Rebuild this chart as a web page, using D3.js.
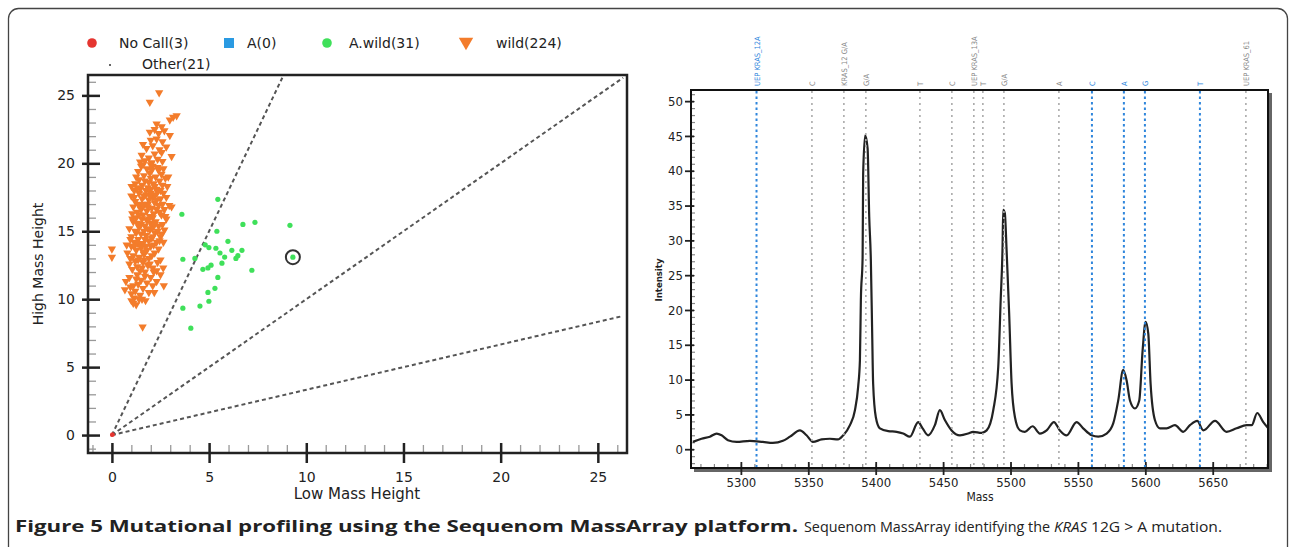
<!DOCTYPE html>
<html>
<head>
<meta charset="utf-8">
<script src="https://cdn.jsdelivr.net/npm/d3@7/dist/d3.min.js"></script>
<style>
body { margin: 0; background: #fff; }
svg { display: block; }
</style>
</head>
<body>
<svg id="fig" width="1290" height="547"></svg>
<script>
// ---- left panel: genotype cluster plot ----
var legendLabels = ["No Call(3)", "A(0)", "A.wild(31)", "wild(224)", "Other(21)"];
var xTicks = [0, 5, 10, 15, 20, 25];
var yTicks = [0, 5, 10, 15, 20, 25];
var ratioSlopes = [3, 1, 1 / 3];

var noCall = [[0, 0], [0.05, 0.03], [0.02, 0.06]];
var other = [[0,0],[0.02,0.01],[0.01,0.03],[0.03,0.02],[0,0.04],[0.04,0],[0.02,0.02],[0.01,0.01],[0.03,0.04],[0.05,0.02],[0.02,0.05],
  [0,0.02],[0.04,0.03],[0.01,0.05],[0.03,0],[0.05,0.05],[0.02,0.03],[0.04,0.01],[0,0.01],[0.01,0],[0.03,0.03]];
var aWild = [[5.45,17.35],[3.6,16.25],[5.4,15.0],[6.74,15.5],[7.36,15.66],[9.16,15.44],[5.97,14.26],[4.99,13.8],[5.35,13.75],
  [5.56,13.4],[6.17,13.6],[6.69,13.6],[3.65,12.94],[4.27,13.0],[5.66,12.65],[6.38,13.0],[6.48,13.2],[4.68,12.2],[4.94,12.3],
  [7.2,12.13],[5.45,11.6],[4.94,10.5],[5.3,10.8],[3.65,9.34],[4.53,9.49],[4.99,9.85],[4.06,7.87],[9.31,13.09],[5.1,12.5],
  [5.8,13.1],[4.8,14.0]];
var selected = [[9.31, 13.09]];
var wild = [
  [2.43,25.2],[1.95,24.5],
  [3.15,23.4],[3.33,23.5],[2.98,23.2],[2.3,22.9],[2.56,22.7],[2.2,22.5],[1.95,22.3],[2.98,22.06],[2.4,22.2],[2.7,22.4],
  [2.6,21.6],[2.3,21.8],[1.78,21.1],[2.1,21.3],[2.45,21.0],[2.56,20.8],[3.07,20.5],[1.53,20.6],[1.9,20.4],[2.2,20.7],
  [1.7,20.2],[2.35,20.3],[1.6,21.4],[2.0,21.7],[2.8,21.2],[1.45,20.1],[2.05,20.05],[2.6,20.15],
  [1.01,18.3],[1.2,18.5],[1.35,19.4],[1.5,19.8],[1.65,19.1],[1.8,19.6],[1.95,19.3],[2.1,19.8],[2.25,19.0],[2.4,19.5],
  [2.55,19.2],[2.9,19.0],[1.4,18.8],[1.55,18.4],[1.7,18.7],[1.85,18.2],[2.0,18.9],[2.15,18.5],[2.3,18.1],[2.45,18.7],
  [2.6,18.4],[2.75,18.9],[1.25,19.0],[1.6,19.9],[1.9,18.6],[2.05,19.5],[2.2,18.3],[2.35,19.7],[1.75,18.0],[1.45,18.1],
  [2.65,19.6],[1.15,18.0],[2.5,18.0],[1.3,18.2],[2.85,18.3],[2.0,18.1],
  [1.0,17.6],[1.1,16.8],[1.2,17.2],[1.3,16.4],[1.4,17.8],[1.45,16.9],[1.55,17.4],[1.6,16.2],[1.7,17.0],[1.75,17.7],
  [1.8,16.5],[1.9,17.3],[1.95,16.1],[2.0,17.8],[2.05,16.7],[2.1,17.5],[2.15,16.3],[2.2,17.1],[2.3,16.6],[2.35,17.9],
  [2.4,16.9],[2.5,17.4],[2.55,16.2],[2.6,17.0],[2.7,16.6],[2.8,17.5],[2.95,16.9],[3.07,16.8],[1.25,16.0],[1.35,17.0],
  [1.5,16.6],[1.65,17.6],[1.85,17.0],[2.25,17.7],[2.45,16.4],[2.65,17.8],[1.15,17.5],[1.05,16.3],[2.75,16.1],[1.95,17.6],
  [2.1,16.0],[1.6,16.9],[2.3,17.3],[1.4,16.2],
  [0.9,15.2],[1.0,14.6],[1.1,15.7],[1.15,14.2],[1.2,15.0],[1.3,15.6],[1.35,14.4],[1.4,15.3],[1.5,14.8],[1.55,15.9],
  [1.6,14.1],[1.7,15.4],[1.75,14.7],[1.8,15.8],[1.9,14.3],[1.95,15.1],[2.0,15.6],[2.05,14.5],[2.1,15.3],[2.2,14.9],
  [2.25,15.7],[2.3,14.2],[2.4,15.4],[2.5,14.6],[2.56,14.8],[2.6,15.5],[2.7,15.1],[2.8,15.9],[0.76,14.0],[1.25,14.9],
  [1.45,14.0],[1.65,15.0],[1.85,15.2],[2.15,14.0],[2.35,15.0],[2.45,14.3],[1.05,15.9],[0.95,14.4],[2.65,14.2],[1.5,15.5],
  [1.9,15.9],[2.1,14.6],[1.3,14.1],[1.7,14.4],
  [0.0,13.7],[0.0,13.1],[0.8,13.4],[0.9,12.6],[1.0,13.9],[1.05,12.2],[1.1,13.2],[1.2,12.8],[1.25,13.6],[1.3,12.4],
  [1.4,13.1],[1.45,12.1],[1.5,13.8],[1.6,12.7],[1.65,13.3],[1.7,12.0],[1.8,13.6],[1.85,12.5],[1.9,13.0],[2.0,13.9],
  [2.1,12.3],[2.2,13.4],[2.3,12.1],[2.4,13.7],[2.64,12.3],[2.5,12.9],[1.15,13.9],[1.35,12.9],[1.55,12.3],[1.75,13.9],
  [1.95,12.6],[2.05,13.2],[2.35,12.7],[0.95,13.0],[2.15,12.0],[1.6,13.5],
  [0.67,10.7],[0.72,11.3],[0.9,11.6],[1.0,10.4],[1.1,11.0],[1.2,10.6],[1.3,11.8],[1.35,11.1],[1.45,10.3],[1.5,11.4],
  [1.6,10.8],[1.7,11.7],[1.8,11.2],[1.9,10.5],[2.0,11.6],[2.18,10.5],[2.3,11.3],[2.67,11.0],[2.5,11.8],[1.15,10.1],
  [1.55,10.0],[2.1,11.0],[0.95,10.9],[1.25,11.5],
  [1.1,9.7],[1.0,9.9],[1.25,9.6],[1.73,9.9],[1.58,7.96],[1.4,10.0],
  [2.0,19.9],[1.85,16.8],[2.2,15.5],[1.65,12.9]
];

// ---- right panel: mass spectrum ----
var massTicks = [5300, 5350, 5400, 5450, 5500, 5550, 5600, 5650];
var intensityTicks = [0, 5, 10, 15, 20, 25, 30, 35, 40, 45, 50];
var specMass = [5264.4,5270.8,5277.0,5282.0,5285.7,5290.4,5296.8,5306.7,5316.3,5323.7,5331.2,5336.4,5343.8,5348.7,5353.4,
  5359.9,5366.0,5372.0,5375.9,5380.9,5384.6,5387.0,5388.3,5389.0,5390.3,5390.7,5392.2,5394.0,5395.2,5396.4,5397.4,5398.1,
  5400.1,5403.1,5409.3,5415.5,5420.4,5425.4,5431.5,5434.8,5438.9,5443.9,5447.6,5451.3,5456.3,5462.5,5468.6,5472.3,5478.6,
  5482.3,5487.2,5490.9,5492.7,5494.1,5494.6,5495.8,5497.1,5499.0,5500.8,5503.3,5507.0,5510.7,5516.4,5521.8,5526.8,5532.2,
  5536.6,5541.6,5549.0,5553.9,5560.2,5565.1,5571.3,5576.2,5579.9,5583.6,5586.1,5588.6,5592.3,5595.5,5598.0,5600.2,5602.2,
  5603.9,5607.1,5610.8,5615.8,5622.0,5628.1,5633.1,5638.5,5643.0,5651.7,5660.3,5667.7,5675.2,5678.9,5683.0,5687.5,5691.2];
var specIntensity = [1.05,1.5,1.8,2.25,2.0,1.3,1.05,1.2,1.05,0.9,1.2,1.8,2.7,2.0,1.05,
  1.4,1.5,1.4,2.0,3.45,5.6,9.0,12.8,21.4,27.6,39.6,45.1,43.2,33.4,27.2,16.6,9.45,
  4.6,3.0,2.6,2.5,2.25,1.8,3.9,3.0,2.0,3.45,5.6,4.2,2.7,2.0,2.25,2.5,2.35,
  2.7,5.6,11.8,21.4,29.1,34.4,33.9,28.6,19.5,9.45,4.6,2.7,2.5,3.3,2.25,2.7,3.9,
  2.7,2.0,3.9,3.0,2.0,1.8,2.25,3.7,7.0,11.4,9.9,7.0,5.85,7.0,14.2,18.3,16.6,
  9.45,4.2,3.0,3.0,3.45,2.5,3.45,4.07,2.7,4.07,2.5,3.0,3.45,3.45,5.2,3.9,3.0];
var markerMass = [5311.6, 5352.7, 5376.4, 5392.7, 5432.8, 5456.5, 5472.8, 5479.5, 5495.1, 5535.9, 5560.4, 5584.1, 5599.7, 5640.5, 5674.6];
var markerLabel = ["UEP KRAS_12A", "C", "KRAS_12 G/A", "G/A", "T", "C", "UEP KRAS_13A", "T", "G/A", "A", "C", "A", "G", "T", "UEP KRAS_61"];
var markerBlue = [true, false, false, false, false, false, false, false, false, false, true, true, true, true, false];

var svg = d3.select("#fig");
svg.append("rect").attr("width", 1290).attr("height", 547).attr("fill", "#fff");
svg.append("rect").attr("x", 8.5).attr("y", 8.5).attr("width", 1279).attr("height", 560)
  .attr("rx", 10).attr("fill", "none").attr("stroke", "#444").attr("stroke-width", 1.3);

var sansL = "'DejaVu Sans', Verdana, sans-serif";
var sansR = "'DejaVu Sans Condensed', 'DejaVu Sans', sans-serif";

// ================= left panel =================
var sx = d3.scaleLinear().domain([-1.23, 26.5]).range([88, 627]);
var sy = d3.scaleLinear().domain([-1.32, 26.5]).range([453, 75]);

var left = svg.append("g");
left.append("clipPath").attr("id", "clipL").append("rect")
  .attr("x", 88).attr("y", 75).attr("width", 539).attr("height", 378);

// minor ticks
left.append("g").attr("transform", "translate(0,453)")
  .call(d3.axisBottom(sx).tickValues(d3.range(-1, 27)).tickSize(-8).tickFormat(""))
  .call(function(g){ g.select(".domain").remove(); g.selectAll("line").attr("stroke", "#999").attr("stroke-width", 1.3); });
left.append("g").attr("transform", "translate(88,0)")
  .call(d3.axisLeft(sy).tickValues(d3.range(-1, 27)).tickSize(-8).tickFormat(""))
  .call(function(g){ g.select(".domain").remove(); g.selectAll("line").attr("stroke", "#999").attr("stroke-width", 1.3); });

// major ticks
left.append("g").attr("transform", "translate(0,453)")
  .call(d3.axisBottom(sx).tickValues(xTicks).tickSize(10).tickPadding(9))
  .call(function(g){
    g.select(".domain").remove();
    g.selectAll("line").attr("y1", -10).attr("stroke", "#222").attr("stroke-width", 2.5);
    g.selectAll("text").attr("font-family", sansL).attr("font-size", 14).attr("fill", "#222");
  });
left.append("g").attr("transform", "translate(88,0)")
  .call(d3.axisLeft(sy).tickValues(yTicks).tickSize(6).tickPadding(7))
  .call(function(g){
    g.select(".domain").remove();
    g.selectAll("line").attr("x1", 12).attr("stroke", "#222").attr("stroke-width", 2.5);
    g.selectAll("text").attr("font-family", sansL).attr("font-size", 14).attr("fill", "#222");
  });

// ratio lines
var ratioLine = d3.line().x(function(d){ return sx(d[0]); }).y(function(d){ return sy(d[1]); });
left.append("g").attr("clip-path", "url(#clipL)").selectAll("path").data(ratioSlopes).join("path")
  .attr("d", function(k){
    var lim = 26.3;
    var end = k >= 1 ? [lim / k, lim] : [lim, lim * k];
    return ratioLine([[0, 0], end]);
  })
  .attr("fill", "none").attr("stroke", "#555").attr("stroke-width", 2).attr("stroke-dasharray", "4,3");

var pts = left.append("g").attr("clip-path", "url(#clipL)");
var triDown = d3.symbol().type(d3.symbolTriangle).size(30);
pts.selectAll(".wild").data(wild).join("path").attr("class", "wild")
  .attr("d", triDown)
  .attr("transform", function(d){ return "translate(" + sx(d[0]) + "," + sy(d[1]) + ") rotate(180)"; })
  .attr("fill", "#f37c2b");
pts.selectAll(".awild").data(aWild).join("circle").attr("class", "awild")
  .attr("cx", function(d){ return sx(d[0]); }).attr("cy", function(d){ return sy(d[1]); })
  .attr("r", 2.6).attr("fill", "#3fe05a");
pts.selectAll(".other").data(other).join("circle").attr("class", "other")
  .attr("cx", function(d){ return sx(d[0]); }).attr("cy", function(d){ return sy(d[1]); })
  .attr("r", 0.8).attr("fill", "#333");
pts.selectAll(".nocall").data(noCall).join("circle").attr("class", "nocall")
  .attr("cx", function(d){ return sx(d[0]); }).attr("cy", function(d){ return sy(d[1]); })
  .attr("r", 2).attr("fill", "#e53530");
pts.selectAll(".sel").data(selected).join("circle").attr("class", "sel")
  .attr("cx", function(d){ return sx(d[0]); }).attr("cy", function(d){ return sy(d[1]); })
  .attr("r", 7).attr("fill", "none").attr("stroke", "#333").attr("stroke-width", 2);

left.append("rect").attr("x", 88).attr("y", 75).attr("width", 539).attr("height", 378)
  .attr("fill", "none").attr("stroke", "#222").attr("stroke-width", 2.5);

left.append("text").attr("x", 357).attr("y", 499).attr("text-anchor", "middle")
  .attr("font-family", sansL).attr("font-size", 15).attr("fill", "#222").text("Low Mass Height");
left.append("text").attr("transform", "translate(43,264) rotate(-90)").attr("text-anchor", "middle")
  .attr("font-family", sansL).attr("font-size", 14).attr("fill", "#222").text("High Mass Height");

// legend
var leg = left.append("g").attr("font-family", sansL).attr("font-size", 14).attr("fill", "#222");
var legText = [[119, 43], [247, 43], [349, 43], [496, 43], [142, 64]];
leg.selectAll("text").data(legendLabels).join("text")
  .attr("x", function(d, i){ return legText[i][0]; }).attr("y", function(d, i){ return legText[i][1]; })
  .attr("dy", "0.35em").text(function(d){ return d; });
leg.append("circle").attr("cx", 92).attr("cy", 43).attr("r", 4.8).attr("fill", "#e53530");
leg.append("rect").attr("x", 224).attr("y", 38).attr("width", 10).attr("height", 10).attr("fill", "#2a9ae2");
leg.append("circle").attr("cx", 327).attr("cy", 43).attr("r", 4.8).attr("fill", "#3fe05a");
leg.append("path").attr("d", d3.symbol().type(d3.symbolTriangle).size(90))
  .attr("transform", "translate(466,42) rotate(180)").attr("fill", "#f37c2b");
leg.append("circle").attr("cx", 110).attr("cy", 65).attr("r", 1).attr("fill", "#333");

// ================= right panel =================
var mx = d3.scaleLinear().domain([5263, 5691]).range([691, 1268]);
var my = d3.scaleLinear().domain([-2.7, 51.6]).range([468, 90]);
var right = svg.append("g");
right.append("clipPath").attr("id", "clipR").append("rect")
  .attr("x", 691).attr("y", 90).attr("width", 577).attr("height", 378);

// shadow of frame
right.append("line").attr("x1", 1270).attr("x2", 1270).attr("y1", 93).attr("y2", 471)
  .attr("stroke", "#666").attr("stroke-width", 4);
right.append("line").attr("x1", 694).attr("x2", 1272).attr("y1", 470).attr("y2", 470)
  .attr("stroke", "#666").attr("stroke-width", 4);

right.append("g").attr("transform", "translate(0,468)")
  .call(d3.axisBottom(mx).tickValues(d3.range(5270, 5691, 10)).tickSize(-4).tickFormat(""))
  .call(function(g){ g.select(".domain").remove(); g.selectAll("line").attr("stroke", "#888").attr("stroke-width", 1.2); });
right.append("g").attr("transform", "translate(691,0)")
  .call(d3.axisLeft(my).tickValues(d3.range(-2, 52, 1)).tickSize(-4).tickFormat(""))
  .call(function(g){ g.select(".domain").remove(); g.selectAll("line").attr("stroke", "#888").attr("stroke-width", 1.2); });

right.append("g").attr("transform", "translate(0,468)")
  .call(d3.axisBottom(mx).tickValues(massTicks).tickSize(7).tickPadding(3).tickFormat(d3.format("d")))
  .call(function(g){
    g.select(".domain").remove();
    g.selectAll("line").attr("y1", -6).attr("stroke", "#222").attr("stroke-width", 1.8);
    g.selectAll("text").attr("font-family", sansR).attr("font-size", 13).attr("fill", "#222");
  });
right.append("g").attr("transform", "translate(691,0)")
  .call(d3.axisLeft(my).tickValues(intensityTicks).tickSize(6).tickPadding(2))
  .call(function(g){
    g.select(".domain").remove();
    g.selectAll("line").attr("x1", 3).attr("stroke", "#222").attr("stroke-width", 1.8);
    g.selectAll("text").attr("font-family", sansR).attr("font-size", 13).attr("fill", "#222");
  });

// spectrum trace
var spec = specMass.map(function(m, i){ return [m, specIntensity[i]]; });
var specLine = d3.line().x(function(d){ return mx(d[0]); }).y(function(d){ return my(d[1]); }).curve(d3.curveMonotoneX);
right.append("path").datum(spec).attr("clip-path", "url(#clipR)").attr("d", specLine)
  .attr("fill", "none").attr("stroke", "#222").attr("stroke-width", 2.2);

// expected-mass markers
right.selectAll(".mk").data(markerMass).join("line").attr("class", "mk")
  .attr("x1", function(d){ return mx(d); }).attr("x2", function(d){ return mx(d); })
  .attr("y1", 91).attr("y2", 467)
  .attr("stroke", function(d, i){ return markerBlue[i] ? "#2f86dc" : "#aaa"; })
  .attr("stroke-width", function(d, i){ return markerBlue[i] ? 2 : 1.6; })
  .attr("stroke-dasharray", function(d, i){ return markerBlue[i] ? "2.5,3" : "2,4"; });
right.selectAll(".mkt").data(markerMass).join("text").attr("class", "mkt")
  .attr("transform", function(d){ return "translate(" + (mx(d) + 3) + ",86) rotate(-90)"; })
  .attr("font-family", sansR).attr("font-size", 7.5)
  .attr("fill", function(d, i){ return markerBlue[i] ? "#2f86dc" : "#888"; })
  .text(function(d, i){ return markerLabel[i]; });

right.append("rect").attr("x", 691).attr("y", 90).attr("width", 577).attr("height", 378)
  .attr("fill", "none").attr("stroke", "#111").attr("stroke-width", 2);

right.append("text").attr("x", 980).attr("y", 501).attr("text-anchor", "middle")
  .attr("font-family", sansR).attr("font-size", 12).attr("fill", "#222").text("Mass");
right.append("text").attr("transform", "translate(662,280) rotate(-90)").attr("text-anchor", "middle")
  .attr("font-family", sansR).attr("font-weight", "bold").attr("font-size", 9.5).attr("fill", "#222").text("Intensity");

// ================= caption =================
var capFont = "'Open Sans', 'Noto Sans', sans-serif";
var caption = svg.append("g").attr("font-family", capFont).attr("fill", "#222");
caption.append("text").attr("x", 15).attr("y", 532).attr("font-size", 16).attr("font-weight", "bold")
  .attr("textLength", 783).attr("lengthAdjust", "spacingAndGlyphs")
  .text("Figure 5 Mutational profiling using the Sequenom MassArray platform.");
caption.append("text").attr("x", 804).attr("y", 532).attr("font-size", 14.5)
  .attr("textLength", 246).attr("lengthAdjust", "spacingAndGlyphs")
  .text("Sequenom MassArray identifying the");
caption.append("text").attr("x", 1054).attr("y", 532).attr("font-size", 14.5).attr("font-style", "italic")
  .attr("textLength", 33).attr("lengthAdjust", "spacingAndGlyphs")
  .text("KRAS");
caption.append("text").attr("x", 1091).attr("y", 532).attr("font-size", 14.5)
  .attr("textLength", 131).attr("lengthAdjust", "spacingAndGlyphs")
  .text("12G > A mutation.");
</script>
</body>
</html>
